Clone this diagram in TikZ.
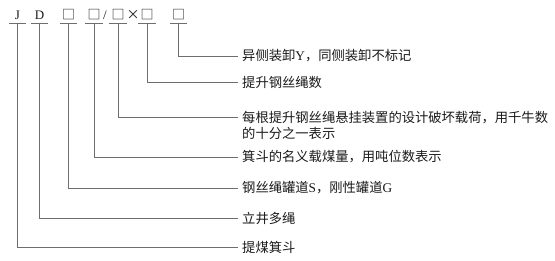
\documentclass[tikz,border=0pt]{standalone}
\usepackage{fontspec}
\setmainfont{Liberation Serif}
\newfontfamily\cjk{Noto Sans CJK SC}
\usetikzlibrary{positioning}
\definecolor{linec}{HTML}{6E6E6E}
\definecolor{textc}{HTML}{1A1A1A}
\tikzset{
  sym/.style={minimum width=17pt, minimum height=16pt, inner sep=0pt,
              text=textc, font=\fontsize{13}{15}\selectfont},
  lbl/.style={anchor=west, inner sep=4pt, align=left, text=textc,
              font=\cjk\fontsize{13.3}{16}\selectfont},
  conn/.style={draw=linec, line width=0.8pt}
}

\begin{document}
\begin{tikzpicture}[x=1pt, y=-1pt]
    \useasboundingbox (0,0) rectangle (555,261);
    % code symbols
    \node[sym] (j) at (17.5,15) {J};
    \node[sym] (d) at (39.5,15) {D};
    \node[sym] (b1) at (68.5,15) {\cjk □};
    \node[sym] (b2) at (94,15) {\cjk □};
    \node[sym, minimum width=0pt] (sl) at (105,15) {/};
    \node[sym] (b3) at (118,15) {\cjk □};
    \node[sym, minimum width=0pt] (tm) at (133,15) {\cjk ×};
    \node[sym] (b4) at (147,15) {\cjk □};
    \node[sym] (b5) at (178.5,15) {\cjk □};
    \foreach \s in {j,d,b1,b2,b3,b4,b5}
      \draw[conn] (\s.south west) -- (\s.south east);
    % meanings
    \node[lbl] (lb5) at (238,56) {异侧装卸{\rmfamily Y}，同侧装卸不标记};
    \node[lbl] (lb4) at (238,82) {提升钢丝绳数};
    \node[lbl] (lb3) at (238,125) {每根提升钢丝绳悬挂装置的设计破坏载荷，用千牛数\\的十分之一表示};
    \coordinate (e3) at (238,117);
    \node[lbl] (lb2) at (238,157) {箕斗的名义载煤量，用吨位数表示};
    \node[lbl] (lb1) at (238,188) {钢丝绳罐道{\rmfamily S}，刚性罐道{\rmfamily G}};
    \node[lbl] (ld) at (238,218) {立井多绳};
    \node[lbl] (lj) at (238,247) {提煤箕斗};
    % connectors
    \foreach \s in {j,d,b1,b2,b4,b5}
      \draw[conn] (\s.south) |- (l\s.west);
    \draw[conn] (b3.south) |- (e3);
\end{tikzpicture}
\end{document}
